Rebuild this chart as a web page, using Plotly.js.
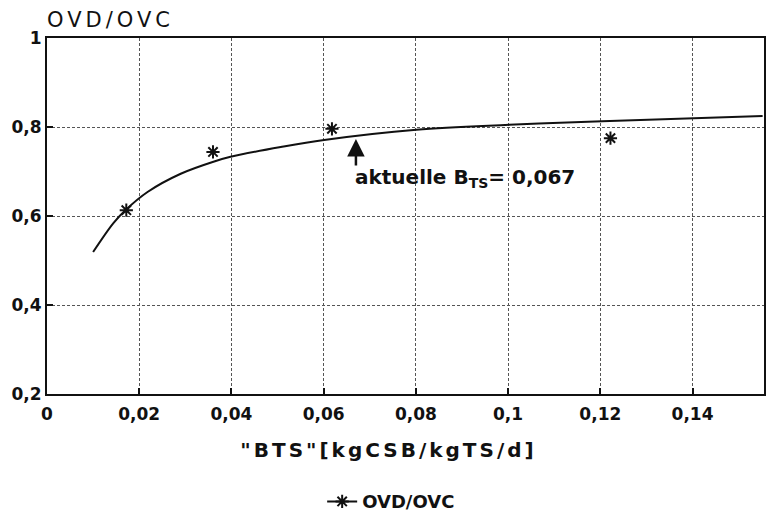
<!DOCTYPE html>
<html>
<head>
<meta charset="utf-8">
<script src="https://cdn.plot.ly/plotly-3.0.1.min.js"></script>
<style>
  html, body { margin: 0; padding: 0; background: #fff; }
  #plot { width: 766px; height: 512px; }
  #plot .gtitle { letter-spacing: 4px; }
  #plot .xtitle { letter-spacing: 3px; transform: translate(-17px, 0px); }
</style>
</head>
<body>
<div id="plot"></div>
<script>
// Fitted curve
const curveX = [0.0100, 0.0144, 0.0170, 0.0218, 0.0290, 0.0361, 0.0398, 0.0507, 0.0601, 0.0801, 0.1002, 0.1204, 0.1552];
const curveY = [0.519, 0.584, 0.613, 0.654, 0.695, 0.722, 0.733, 0.755, 0.771, 0.794, 0.805, 0.813, 0.825];
// Measured points (asterisks)
const pointX = [0.0172, 0.0360, 0.0618, 0.1222];
const pointY = [0.613, 0.744, 0.796, 0.775];
const seriesName = 'OVD/OVC';
const xTicks = [0, 0.02, 0.04, 0.06, 0.08, 0.1, 0.12, 0.14];
const yTicks = [0.2, 0.4, 0.6, 0.8, 1];
const currentBTS = 0.067;
const currentLabel = 'aktuelle B<sub>TS</sub>= 0,067';

const FONT = 'DejaVu Sans, sans-serif';
const traces = [
  { x: curveX, y: curveY, mode: 'lines', line: { color: '#111', width: 2, shape: 'spline', smoothing: 1.0 }, showlegend: false, hoverinfo: 'skip' },
  { x: pointX, y: pointY, mode: 'markers', marker: { symbol: 'asterisk-open', size: 11, color: '#111', line: { color: '#111', width: 2 } }, showlegend: false },
  { x: [null], y: [null], mode: 'lines+markers', name: seriesName,
    line: { color: '#111', width: 2 },
    marker: { symbol: 'asterisk-open', size: 11, color: '#111', line: { color: '#111', width: 2 } } }
];

function interp(x) {
  for (let i = 0; i < curveX.length - 1; i++) {
    if (x >= curveX[i] && x <= curveX[i+1]) {
      const t = (x - curveX[i]) / (curveX[i+1] - curveX[i]);
      return curveY[i] + t * (curveY[i+1] - curveY[i]);
    }
  }
  return curveY[curveY.length-1];
}
const tipY = interp(currentBTS) - 0.006;

const layout = {
  width: 766, height: 512,
  margin: { l: 47, r: 2, t: 38, b: 118 },
  paper_bgcolor: '#fff', plot_bgcolor: '#fff',
  separators: ',.',
  font: { family: FONT, color: '#111' },
  title: { text: 'OVD/OVC', font: { family: FONT, size: 21, color: '#111' },
           xref: 'paper', x: 0, xanchor: 'left', yref: 'container', y: 0.962, yanchor: 'middle' },
  xaxis: {
    range: [0, 0.1555], tickvals: xTicks, ticks: 'inside', ticklen: 6, tickwidth: 2, tickcolor: '#111',
    showline: true, mirror: true, linecolor: '#111', linewidth: 2,
    showgrid: true, gridcolor: '#555', gridwidth: 1, griddash: '3px,2px',
    zeroline: false, ticklabelstandoff: 4,
    tickfont: { family: FONT, size: 17, weight: 'bold', color: '#111' },
    title: { text: '"BTS"[kgCSB/kgTS/d]', font: { family: FONT, size: 20, weight: 'bold', color: '#111' }, standoff: 20 }
  },
  yaxis: {
    range: [0.2, 1], tickvals: yTicks, ticks: 'inside', ticklen: 6, tickwidth: 2, tickcolor: '#111',
    showline: true, mirror: true, linecolor: '#111', linewidth: 2,
    showgrid: true, gridcolor: '#555', gridwidth: 1, griddash: '3px,2px',
    zeroline: false,
    tickfont: { family: FONT, size: 17, weight: 'bold', color: '#111' }
  },
  legend: {
    orientation: 'h', xref: 'paper', x: 0.48, xanchor: 'center',
    yref: 'container', y: 0.02, yanchor: 'middle',
    font: { family: FONT, size: 18, weight: 'bold', color: '#111' },
    bgcolor: 'rgba(0,0,0,0)'
  },
  annotations: [
    { x: currentBTS, y: tipY, xref: 'x', yref: 'y', text: '', showarrow: true,
      ax: 0, ay: 28, arrowhead: 2, arrowsize: 1.4, arrowwidth: 2.5, arrowcolor: '#111' },
    { x: 0.0664, y: 0.685, xref: 'x', yref: 'y', text: currentLabel, showarrow: false,
      xanchor: 'left', yanchor: 'middle',
      font: { family: FONT, size: 20, weight: 'bold', color: '#111' } }
  ]
};

Plotly.newPlot('plot', traces, layout, { displayModeBar: false, staticPlot: true });
</script>
</body>
</html>
